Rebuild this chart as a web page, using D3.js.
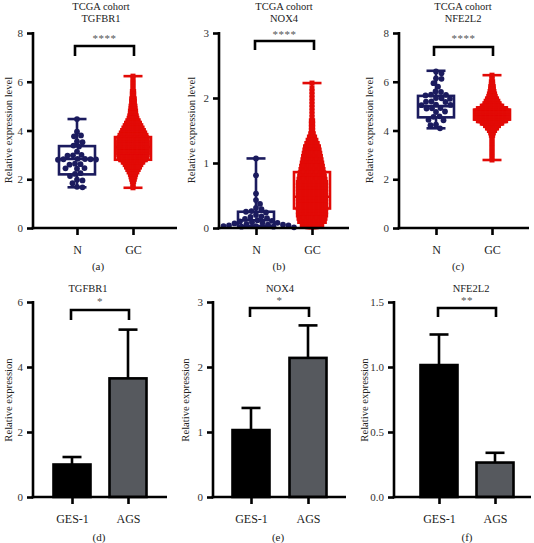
<!DOCTYPE html>
<html><head><meta charset="utf-8">
<script src="https://cdn.jsdelivr.net/npm/d3@7"></script>
<style>
body{margin:0;background:#fff}
svg{display:block}
</style>
</head><body>
<svg id="c" width="534" height="543"></svg>
<script>
// ---------------- DATA ----------------
const boxCategories = ["N", "GC"];
const boxGenes = ["TGFBR1", "NOX4", "NFE2L2"];
const boxLetters = ["(a)", "(b)", "(c)"];
const boxCohortTitle = "TCGA cohort";
const boxYMax = [8, 3, 8];
const boxYTicks = [[0, 2, 4, 6, 8], [0, 1, 2, 3], [0, 2, 4, 6, 8]];
const boxSignif = ["****", "****", "****"];
const boxYLabel = "Relative expression level";

// Normal samples (individual points)
const tgfbr1Normal = [4.47, 3.95, 3.8, 3.76, 3.55, 3.52, 3.38, 3.34, 3.13, 3.0, 2.98, 2.97, 2.84, 2.83, 2.82, 2.82, 2.81, 2.8, 2.64, 2.62, 2.6, 2.46, 2.45, 2.43, 2.25, 2.22, 2.13, 1.98, 1.95, 1.84, 1.69, 1.67];
const nox4Normal = [1.07, 0.81, 0.53, 0.43, 0.37, 0.31, 0.29, 0.26, 0.25, 0.24, 0.2, 0.18, 0.17, 0.15, 0.14, 0.12, 0.11, 0.1, 0.09, 0.08, 0.08, 0.07, 0.06, 0.05, 0.05, 0.04, 0.04, 0.03, 0.03, 0.02, 0.02, 0.01];
const nfe2l2Normal = [6.42, 6.35, 6.14, 6.12, 5.94, 5.8, 5.6, 5.58, 5.47, 5.46, 5.44, 5.33, 5.32, 5.3, 5.19, 5.18, 5.17, 5.06, 5.05, 5.04, 4.92, 4.91, 4.9, 4.78, 4.76, 4.58, 4.56, 4.44, 4.42, 4.24, 4.22, 4.09];

// Tumour samples (dense; read as number of samples per expression level)
const tgfbr1TumorLevels = [6.23, 6.1, 6.0, 5.9, 5.8, 5.7, 5.6, 5.5, 5.4, 5.3, 5.2, 5.1, 5.0, 4.9, 4.8, 4.7, 4.6, 4.5, 4.4, 4.3, 4.2, 4.1, 4.0, 3.9, 3.8, 3.7, 3.6, 3.5, 3.4, 3.3, 3.2, 3.1, 3.0, 2.9, 2.8, 2.7, 2.6, 2.5, 2.4, 2.3, 2.2, 2.1, 2.0, 1.9, 1.8, 1.7, 1.65];
const tgfbr1TumorCounts = [1, 1, 1, 1, 1, 1, 2, 2, 2, 3, 3, 3, 4, 4, 5, 5, 6, 7, 9, 11, 13, 15, 17, 19, 21, 22, 23, 23, 23, 23, 23, 23, 23, 22, 20, 16, 13, 11, 9, 7, 5, 4, 3, 2, 1, 1, 1];

const nox4TumorLevels = [2.23, 2.15, 2.1, 2.05, 2.0, 1.95, 1.9, 1.85, 1.8, 1.75, 1.7, 1.65, 1.6, 1.55, 1.5, 1.45, 1.4, 1.35, 1.3, 1.25, 1.2, 1.15, 1.1, 1.05, 1.0, 0.95, 0.9, 0.85, 0.8, 0.75, 0.7, 0.65, 0.6, 0.55, 0.5, 0.45, 0.4, 0.35, 0.3, 0.25, 0.2, 0.15, 0.1, 0.05, 0.02];
const nox4TumorCounts = [1, 1, 1, 1, 1, 1, 1, 1, 1, 1, 1, 2, 2, 2, 2, 3, 5, 7, 9, 11, 12, 13, 14, 15, 16, 17, 18, 19, 20, 21, 22, 22, 22, 22, 22, 22, 22, 22, 22, 22, 22, 21, 20, 16, 8];

const nfe2l2TumorLevels = [6.27, 6.2, 6.1, 6.0, 5.9, 5.8, 5.7, 5.6, 5.5, 5.4, 5.3, 5.2, 5.1, 5.0, 4.9, 4.8, 4.7, 4.6, 4.5, 4.4, 4.3, 4.2, 4.1, 4.0, 3.9, 3.8, 3.7, 3.6, 3.5, 3.4, 3.3, 3.2, 3.1, 3.0, 2.9, 2.79];
const nfe2l2TumorCounts = [1, 1, 1, 2, 2, 3, 3, 4, 5, 6, 8, 10, 12, 16, 22, 26, 26, 26, 26, 22, 16, 11, 8, 5, 3, 2, 1, 1, 1, 1, 1, 1, 1, 1, 1, 1];

// Box summaries [min, Q1, median, Q3, max]
const tgfbr1NormalBox = [1.67, 2.2, 2.83, 3.36, 4.47];
const tgfbr1TumorBox = [1.65, 2.8, 3.32, 3.73, 6.23];
const nox4NormalBox = [0.01, 0.03, 0.12, 0.25, 1.07];
const nox4TumorBox = [0.02, 0.3, 0.48, 0.86, 2.23];
const nfe2l2NormalBox = [4.09, 4.54, 5.0, 5.42, 6.45];
const nfe2l2TumorBox = [2.79, 4.45, 4.65, 4.85, 6.27];

// Bar charts (cell lines)
const barCategories = ["GES-1", "AGS"];
const barGenes = ["TGFBR1", "NOX4", "NFE2L2"];
const barLetters = ["(d)", "(e)", "(f)"];
const barYLabel = "Relative expression";
const tgfbr1Mean = [1.0, 3.65];
const tgfbr1Err = [0.23, 1.5];
const nox4Mean = [1.03, 2.14];
const nox4Err = [0.34, 0.5];
const nfe2l2Mean = [1.015, 0.265];
const nfe2l2Err = [0.235, 0.075];
const barYMax = [6, 3, 1.5];
const barYTicks = [[0, 2, 4, 6], [0, 1, 2, 3], [0, 0.5, 1.0, 1.5]];
const barTickFormat = ["d", "d", ".1f"];
const barSignif = ["*", "*", "**"];

// ---------------- STYLE / LAYOUT ----------------
const FONT = '"Liberation Serif", "Times New Roman", Times, "DejaVu Serif", serif';
const normalColor = "#1b1b5e";
const tumorColor = "#e20a06";
const barFills = ["#000000", "#56595e"];
const LW = 2.6;
const FS_TITLE = 10.5, FS_YLAB = 10.6, FS_TICK = 11, FS_CAT = 12, FS_LETTER = 11;

const svg = d3.select("#c");

const boxLayout = [
  {ax: 33, xEnd: 177, c0: 77, c1: 133, labX: 8, bx0: 75, bx1: 134, bH: 46, bL: 56, starY: 42, titleX: 101, letterX: 98},
  {ax: 219, xEnd: 349, c0: 256, c1: 312, labX: 191, bx0: 255, bx1: 314, bH: 41, bL: 50, starY: 38, titleX: 284, letterX: 279},
  {ax: 399, xEnd: 529, c0: 436, c1: 492, labX: 369, bx0: 434, bx1: 493, bH: 47, bL: 56, starY: 42, titleX: 463, letterX: 458}
];
const barLayout = [
  {ax: 33, xEnd: 167, c0: 72, c1: 128, labX: 8, bx0: 71, bx1: 129, bH: 310, bL: 320, starY: 305, titleX: 88, letterX: 99},
  {ax: 213, xEnd: 346, c0: 251, c1: 308, labX: 185, bx0: 250, bx1: 309, bH: 308, bL: 317, starY: 304, titleX: 280, letterX: 278},
  {ax: 394, xEnd: 531, c0: 439, c1: 495, labX: 364, bx0: 438, bx1: 496, bH: 308, bL: 317, starY: 304, titleX: 471, letterX: 467}
];

function drawAxes(g, L, y, x, ticks, fmt, yTop, yBot) {
  const ya = g.append("g").attr("transform", `translate(${L.ax},0)`)
    .call(d3.axisLeft(y).tickValues(ticks).tickSize(6).tickSizeOuter(0).tickPadding(4).tickFormat(d3.format(fmt)));
  ya.select(".domain").remove();
  ya.selectAll(".tick line").attr("stroke", "#000").attr("stroke-width", LW);
  ya.selectAll(".tick text").attr("font-size", FS_TICK).attr("fill", "#333");
  g.append("line").attr("x1", L.ax).attr("x2", L.ax).attr("y1", yTop - 1).attr("y2", yBot + 1.3)
    .attr("stroke", "#000").attr("stroke-width", LW);
  const xa = g.append("g").attr("transform", `translate(0,${yBot})`)
    .call(d3.axisBottom(x).tickSize(7).tickSizeOuter(0).tickPadding(10));
  xa.select(".domain").remove();
  xa.selectAll(".tick line").attr("stroke", "#000").attr("stroke-width", LW);
  xa.selectAll(".tick text").attr("font-size", FS_CAT).attr("fill", "#222");
  g.append("line").attr("x1", L.ax - 1.3).attr("x2", L.xEnd).attr("y1", yBot).attr("y2", yBot)
    .attr("stroke", "#000").attr("stroke-width", LW);
}

function drawBracket(g, L, stars) {
  g.append("path").attr("d", `M${L.bx0},${L.bL}V${L.bH}H${L.bx1}V${L.bL}`)
    .attr("fill", "none").attr("stroke", "#000").attr("stroke-width", LW);
  g.append("text").attr("x", (L.bx0 + L.bx1) / 2).attr("y", L.starY).attr("text-anchor", "middle")
    .attr("font-size", 11).attr("fill", "#555").style("letter-spacing", "0.5px").text(stars);
}

function swarm(values, y, cx, r) {
  const placed = [];
  const sorted = values.slice().sort((a, b) => b - a);
  sorted.forEach(v => {
    const py = y(v);
    let px = cx;
    for (let k = 0; k < 200; k++) {
      const cands = k === 0 ? [0] : [k * 0.5, -k * 0.5];
      let ok = false;
      for (const off of cands) {
        const tx = cx + off;
        if (placed.every(p => (p.x - tx) ** 2 + (p.y - py) ** 2 >= (2 * r - 0.4) ** 2)) { px = tx; ok = true; break; }
      }
      if (ok) break;
    }
    placed.push({x: px, y: py});
  });
  return placed;
}

function drawBox(g, cx, y, stats, color) {
  const [mn, q1, md, q3, mx] = stats;
  const hw = 18, cw = 9.5;
  g.append("line").attr("x1", cx).attr("x2", cx).attr("y1", y(mx)).attr("y2", y(mn)).attr("stroke", color).attr("stroke-width", LW);
  g.append("line").attr("x1", cx - cw).attr("x2", cx + cw).attr("y1", y(mx)).attr("y2", y(mx)).attr("stroke", color).attr("stroke-width", LW);
  g.append("line").attr("x1", cx - cw).attr("x2", cx + cw).attr("y1", y(mn)).attr("y2", y(mn)).attr("stroke", color).attr("stroke-width", LW);
  g.append("rect").attr("x", cx - hw).attr("y", y(q3)).attr("width", 2 * hw).attr("height", y(q1) - y(q3))
    .attr("fill", "#fff").attr("stroke", color).attr("stroke-width", LW);
  g.append("line").attr("x1", cx - hw).attr("x2", cx + hw).attr("y1", y(md)).attr("y2", y(md)).attr("stroke", color).attr("stroke-width", LW);
}

const boxNormals = [tgfbr1Normal, nox4Normal, nfe2l2Normal];
const boxTumorLevels = [tgfbr1TumorLevels, nox4TumorLevels, nfe2l2TumorLevels];
const boxTumorCounts = [tgfbr1TumorCounts, nox4TumorCounts, nfe2l2TumorCounts];
const boxNormalStats = [tgfbr1NormalBox, nox4NormalBox, nfe2l2NormalBox];
const boxTumorStats = [tgfbr1TumorBox, nox4TumorBox, nfe2l2TumorBox];

boxGenes.forEach((gene, i) => {
  const L = boxLayout[i];
  const g = svg.append("g");
  const yTop = 33, yBot = 228;
  const y = d3.scaleLinear().domain([0, boxYMax[i]]).range([yBot, yTop]);
  const x = d3.scalePoint().domain(boxCategories).range([L.c0, L.c1]);

  drawBox(g, x("N"), y, boxNormalStats[i], normalColor);
  drawBox(g, x("GC"), y, boxTumorStats[i], tumorColor);

  const pts = swarm(boxNormals[i], y, x("N"), 2.9);
  g.append("g").selectAll("circle").data(pts).join("circle")
    .attr("cx", d => d.x).attr("cy", d => d.y).attr("r", 2.9).attr("fill", normalColor);

  const tpts = [];
  boxTumorLevels[i].forEach((lv, j) => {
    const n = boxTumorCounts[i][j];
    for (let k = 0; k < n; k++) tpts.push({x: x("GC") + (k - (n - 1) / 2) * 1.3, y: y(lv)});
  });
  g.append("g").selectAll("rect").data(tpts).join("rect")
    .attr("x", d => d.x - 2.5).attr("y", d => d.y - 2.5).attr("width", 5).attr("height", 5).attr("fill", tumorColor);

  drawAxes(g, L, y, x, boxYTicks[i], "d", yTop, yBot);
  drawBracket(g, L, boxSignif[i]);

  g.append("text").attr("x", L.titleX).attr("y", 10).attr("text-anchor", "middle").attr("font-size", FS_TITLE).text(boxCohortTitle);
  g.append("text").attr("x", L.titleX).attr("y", 22).attr("text-anchor", "middle").attr("font-size", FS_TITLE).text(gene);
  g.append("text").attr("transform", `translate(${L.labX + 4},${130}) rotate(-90)`).attr("text-anchor", "middle")
    .attr("font-size", FS_YLAB).text(boxYLabel);
  g.append("text").attr("x", L.letterX).attr("y", 270).attr("text-anchor", "middle").attr("font-size", FS_LETTER).text(boxLetters[i]);
});

const barMeans = [tgfbr1Mean, nox4Mean, nfe2l2Mean];
const barErrs = [tgfbr1Err, nox4Err, nfe2l2Err];

barGenes.forEach((gene, i) => {
  const L = barLayout[i];
  const g = svg.append("g");
  const yTop = 302, yBot = 497;
  const y = d3.scaleLinear().domain([0, barYMax[i]]).range([yBot, yTop]);
  const x = d3.scalePoint().domain(barCategories).range([L.c0, L.c1]);
  const bw = 37;
  const rows = barCategories.map((c, j) => ({c, m: barMeans[i][j], e: barErrs[i][j], fill: barFills[j]}));

  rows.forEach(r => {
    g.append("line").attr("x1", x(r.c)).attr("x2", x(r.c)).attr("y1", y(r.m)).attr("y2", y(r.m + r.e)).attr("stroke", "#000").attr("stroke-width", LW);
    g.append("line").attr("x1", x(r.c) - 9.5).attr("x2", x(r.c) + 9.5).attr("y1", y(r.m + r.e)).attr("y2", y(r.m + r.e)).attr("stroke", "#000").attr("stroke-width", LW);
  });
  g.append("g").selectAll("rect").data(rows).join("rect")
    .attr("x", d => x(d.c) - bw / 2).attr("y", d => y(d.m)).attr("width", bw).attr("height", d => yBot - y(d.m))
    .attr("fill", d => d.fill).attr("stroke", "#000").attr("stroke-width", LW);

  drawAxes(g, L, y, x, barYTicks[i], barTickFormat[i], yTop, yBot);
  drawBracket(g, L, barSignif[i]);

  g.append("text").attr("x", L.titleX).attr("y", 292).attr("text-anchor", "middle").attr("font-size", FS_TITLE).text(gene);
  g.append("text").attr("transform", `translate(${L.labX + 4},${400}) rotate(-90)`).attr("text-anchor", "middle")
    .attr("font-size", FS_YLAB).text(barYLabel);
  g.append("text").attr("x", L.letterX).attr("y", 541).attr("text-anchor", "middle").attr("font-size", FS_LETTER).text(barLetters[i]);
});

svg.selectAll("g").attr("font-family", null);
svg.selectAll("text").attr("font-family", FONT).style("font-family", FONT);
svg.selectAll("text:not([fill])").attr("fill", "#222");
</script>
</body></html>
